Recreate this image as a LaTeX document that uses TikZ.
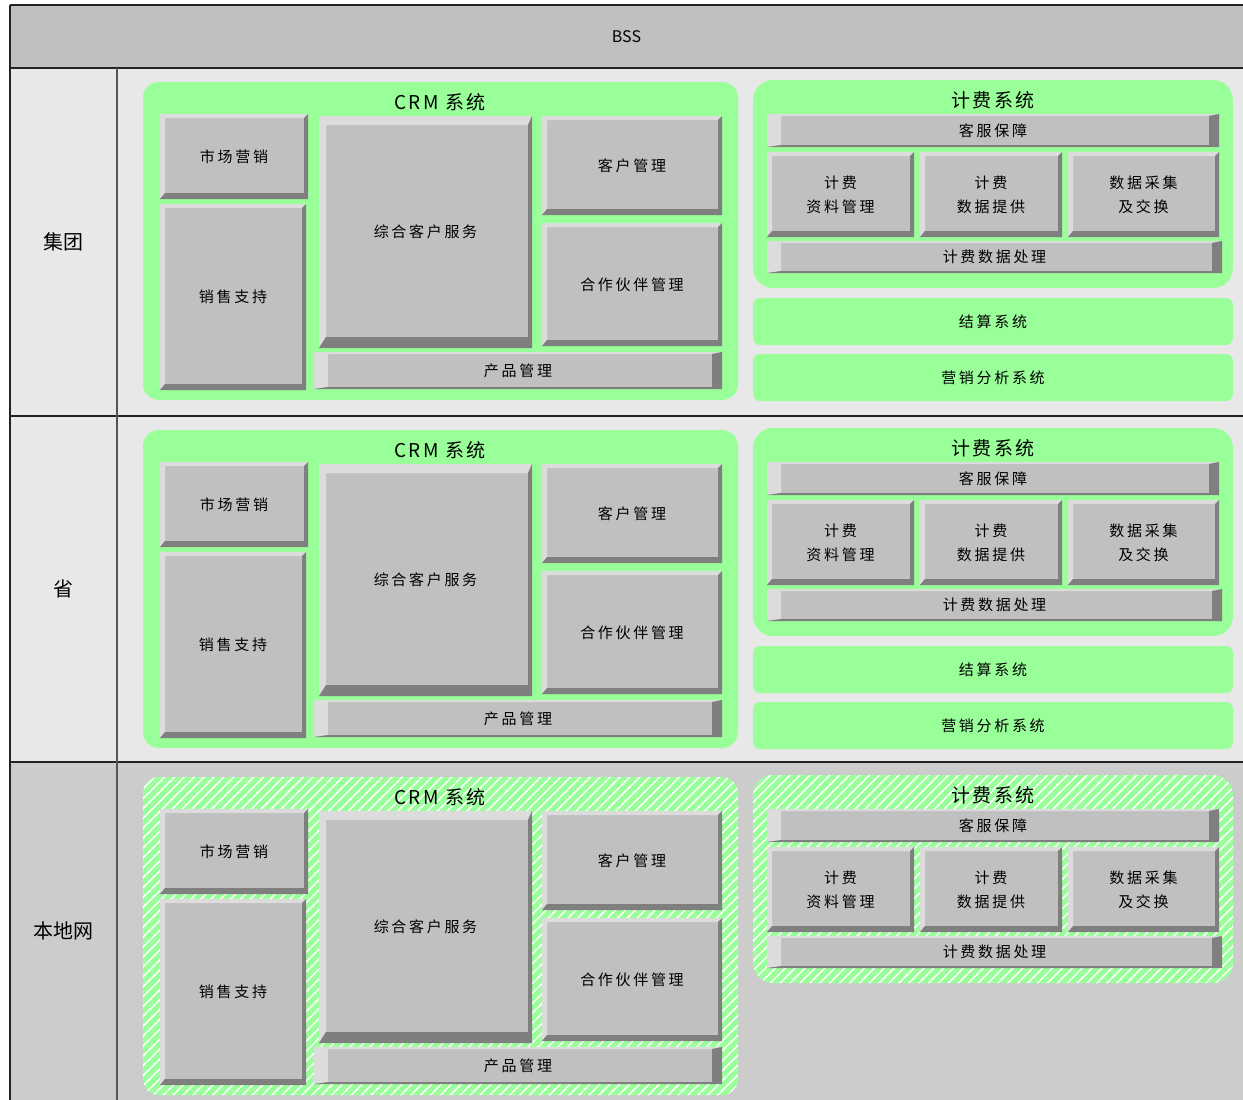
\documentclass[tikz,border=0pt]{standalone}
\usepackage{fontspec}
\setmainfont{Noto Sans CJK SC}
\newfontfamily\boxfont[LetterSpace=18]{Noto Sans CJK SC}
\newfontfamily\titlefont[LetterSpace=12]{Noto Sans CJK SC}
\usepackage{tikz}
\usetikzlibrary{patterns.meta}
\definecolor{bssgray}{HTML}{C0C0C0}
\definecolor{rowlight}{HTML}{E8E8E8}
\definecolor{rowdark}{HTML}{CCCCCC}
\definecolor{sysgreen}{HTML}{99FF99}
\definecolor{boxface}{HTML}{C0C0C0}
\definecolor{boxlight}{HTML}{DCDCDC}
\definecolor{boxshade}{HTML}{7F7F7F}
\definecolor{gridline}{HTML}{222222}
\definecolor{colline}{HTML}{555555}

\tikzset{
  bevel/.style n args={4}{fill=boxface,inner sep=0pt,outer sep=0pt,align=center,
    font=\boxfont\fontsize{15}{24}\selectfont,
    path picture={
      \fill[boxlight] (path picture bounding box.south west) -- (path picture bounding box.north west)
        -- (path picture bounding box.north east) -- ([xshift=-#3pt,yshift=-#2pt]path picture bounding box.north east)
        -- ([xshift=#1pt,yshift=-#2pt]path picture bounding box.north west)
        -- ([xshift=#1pt,yshift=#4pt]path picture bounding box.south west) -- cycle;
      \fill[boxshade] (path picture bounding box.north east) -- (path picture bounding box.south east)
        -- (path picture bounding box.south west) -- ([xshift=#1pt,yshift=#4pt]path picture bounding box.south west)
        -- ([xshift=-#3pt,yshift=#4pt]path picture bounding box.south east)
        -- ([xshift=-#3pt,yshift=-#2pt]path picture bounding box.north east) -- cycle;
    }},
  blk/.style={bevel={5}{4}{4}{6}},
  bigblk/.style={bevel={7}{9}{4}{11}},
  bar/.style={bevel={14}{2}{10}{2}},
  grpsolid/.style={fill=sysgreen},
  grphatch/.style={fill=sysgreen,postaction={pattern={Lines[angle=45,distance=7pt,line width=1.5pt]},pattern color=white}},
  sysgrp/.code={\ifnum#1=3 \tikzset{grphatch}\else\tikzset{grpsolid}\fi},
  grpbox/.style={inner sep=0pt,outer sep=0pt,rounded corners=16pt},
  sysbar/.style={fill=sysgreen,inner sep=0pt,outer sep=0pt,rounded corners=7pt,
    font=\boxfont\fontsize{15}{24}\selectfont},
  systitle/.style={inner sep=0pt,font=\titlefont\fontsize{19}{22}\selectfont},
  lvltext/.style={inner sep=0pt,font=\fontsize{20}{24}\selectfont}
}

\begin{document}
\begin{tikzpicture}[x=1pt,y=-1pt]
\useasboundingbox (0,0) rectangle (1243,1100);
% header and level bands
\node[fill=bssgray,inner sep=0pt,outer sep=0pt,anchor=north west,minimum width=1233pt,minimum height=63pt,
  font=\fontsize{16}{18}\selectfont] (bss) at (10,5) {BSS};
\fill[rowlight] (10,68) rectangle (1243,416);
\fill[rowlight] (10,416) rectangle (1243,762);
\fill[rowdark] (10,762) rectangle (1243,1100);
\node[lvltext] (lvl1) at (63,242) {集团};
\node[lvltext] (lvl2) at (63,589) {省};
\node[lvltext] (lvl3) at (63,931) {本地网};
\draw[gridline,line width=1.5pt] (bss.north west) -- (bss.north east);
\draw[gridline,line width=1.5pt] (bss.south west) -- (bss.south east);
\draw[gridline,line width=1.5pt] (10,416) -- (1243,416);
\draw[gridline,line width=1.5pt] (10,762) -- (1243,762);
\draw[gridline,line width=1.5pt] (bss.north west) -- (10,1100);
\draw[colline,line width=1.5pt] (117,68) -- (117,1100);

\foreach \r/\dy in {1/0,2/348,3/695}{
  % CRM
  \node[grpbox,sysgrp=\r,minimum width=595pt,minimum height=318pt] (crm\r) at (440.5,241+\dy) {};
  \node[systitle] (crmtitle\r) at (440,102+\dy) {CRM 系统};
  \node[blk,minimum width=148pt,minimum height=85pt] (mkt\r) at (234,156.5+\dy) {市场营销};
  \node[blk,minimum width=146pt,minimum height=186pt] (sales\r) at (233,297+\dy) {销售支持};
  \node[bigblk,minimum width=213pt,minimum height=232pt] (svc\r) at (425.5,232+\dy) {综合客户服务};
  \node[blk,minimum width=180pt,minimum height=99pt] (cust\r) at (632,165.5+\dy) {客户管理};
  \node[blk,minimum width=180pt,minimum height=123pt] (partner\r) at (632,284.5+\dy) {合作伙伴管理};
  \node[bar,minimum width=408pt,minimum height=37pt] (prod\r) at (518,370.5+\dy) {产品管理};
  % billing
  \node[grpbox,sysgrp=\r,rounded corners=20pt,minimum width=480pt,minimum height=208pt] (bill\r) at (993,184+\dy) {};
  \node[systitle] (billtitle\r) at (993,100+\dy) {计费系统};
  \node[bar,minimum width=452pt,minimum height=33pt] (care\r) at (993,130.5+\dy) {客服保障};
  \node[blk,minimum width=147pt,minimum height=85pt] (billdata\r) at (840.5,194.5+\dy) {计费\\资料管理};
  \node[blk,minimum width=142pt,minimum height=85pt] (billprov\r) at (991,194.5+\dy) {计费\\数据提供};
  \node[blk,minimum width=151pt,minimum height=85pt] (collect\r) at (1143.5,194.5+\dy) {数据采集\\及交换};
  \node[bar,minimum width=455pt,minimum height=32pt] (billproc\r) at (994.5,257+\dy) {计费数据处理};
}
\foreach \r/\dy in {1/0,2/348}{
  \node[sysbar,minimum width=480pt,minimum height=47pt] (settle\r) at (993,321.5+\dy) {结算系统};
  \node[sysbar,minimum width=480pt,minimum height=47pt] (mktana\r) at (993,377.5+\dy) {营销分析系统};
}
\end{tikzpicture}
\end{document}
